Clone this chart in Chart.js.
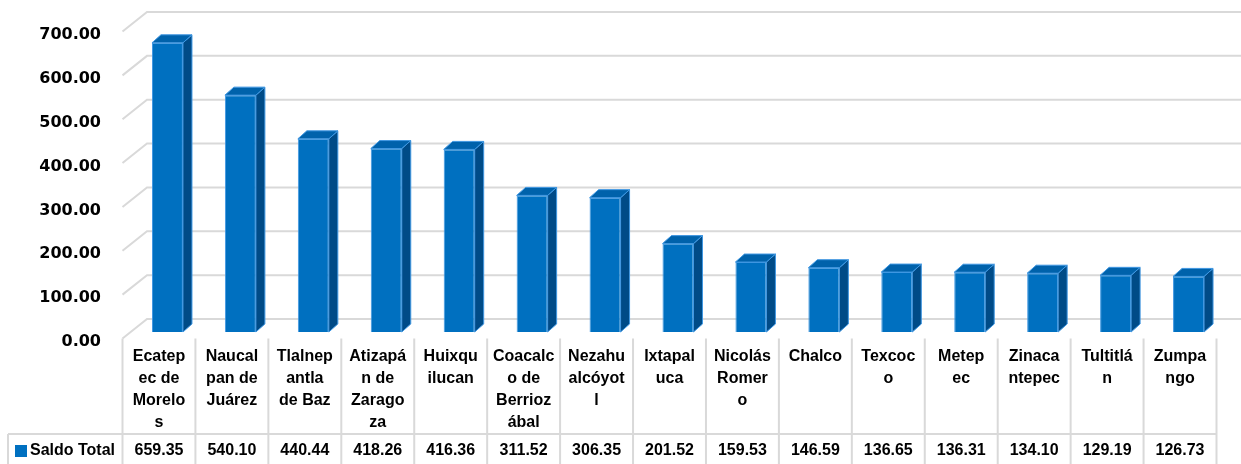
<!DOCTYPE html>
<html>
<head>
<meta charset="utf-8">
<script src="https://cdn.jsdelivr.net/npm/chart.js@4/dist/chart.umd.min.js"></script>
<style>
  body { margin: 0; background: #fff; }
  #wrap { width: 1241px; height: 464px; }
</style>
</head>
<body>
<div id="wrap"><canvas id="saldoChart"></canvas></div>
<script>
const municipios = [
    ["Ecatep", "ec de", "Morelo", "s"],
    ["Naucal", "pan de", "Juárez"],
    ["Tlalnep", "antla", "de Baz"],
    ["Atizapá", "n de", "Zarago", "za"],
    ["Huixqu", "ilucan"],
    ["Coacalc", "o de", "Berrioz", "ábal"],
    ["Nezahu", "alcóyot", "l"],
    ["Ixtapal", "uca"],
    ["Nicolás", "Romer", "o"],
    ["Chalco"],
    ["Texcoc", "o"],
    ["Metep", "ec"],
    ["Zinaca", "ntepec"],
    ["Tultitlá", "n"],
    ["Zumpa", "ngo"]
];
const saldoTotal = [659.35, 540.10, 440.44, 418.26, 416.36, 311.52, 306.35, 201.52, 159.53, 146.59, 136.65, 136.31, 134.10, 129.19, 126.73];
const serieNombre = "Saldo Total";

// desplazamientos del efecto 3D
const prof = { x: 9, y: 8 };        // fondo de cada barra
const frente = { x: -8.5, y: 6.5 };  // plano frontal (tabla, etiquetas)
const fondo = { x: 16, y: -13 };     // pared del fondo (rejilla)

const azul = "#0070c0";
const azulLado = "#004b87";
const azulTapa = "#0062ab";
const borde = "#3f97e2";
const gris = "#d9d9d9";

const efecto3d = {
    id: "efecto3d",
    beforeDatasetsDraw(chart) {
        const ctx = chart.ctx;
        const y = chart.scales.y;
        const left = chart.chartArea.left;
        ctx.save();
        ctx.strokeStyle = gris;
        ctx.lineWidth = 2;
        y.ticks.forEach(t => {
            const py = y.getPixelForValue(t.value);
            ctx.beginPath();
            ctx.moveTo(left + frente.x, py + frente.y);
            ctx.lineTo(left + fondo.x, py + fondo.y);
            ctx.lineTo(chart.width, py + fondo.y);
            ctx.stroke();
        });
        ctx.restore();
    },
    afterDatasetsDraw(chart) {
        const ctx = chart.ctx;
        const meta = chart.getDatasetMeta(0);
        ctx.save();
        ctx.lineWidth = 1;
        ctx.strokeStyle = borde;
        meta.data.forEach(bar => {
            const w = bar.width / 2;
            const l = bar.x - w, r = bar.x + w;
            // lado
            ctx.beginPath();
            ctx.moveTo(r, bar.y);
            ctx.lineTo(r + prof.x, bar.y - prof.y);
            ctx.lineTo(r + prof.x, bar.base - prof.y);
            ctx.lineTo(r, bar.base);
            ctx.closePath();
            ctx.fillStyle = azulLado;
            ctx.fill();
            ctx.stroke();
            // tapa
            ctx.beginPath();
            ctx.moveTo(l, bar.y);
            ctx.lineTo(l + prof.x, bar.y - prof.y);
            ctx.lineTo(r + prof.x, bar.y - prof.y);
            ctx.lineTo(r, bar.y);
            ctx.closePath();
            ctx.fillStyle = azulTapa;
            ctx.fill();
            ctx.stroke();
        });
        ctx.restore();
    },
    afterDraw(chart) {
        const ctx = chart.ctx;
        const x = chart.scales.x;
        const y = chart.scales.y;
        const n = saldoTotal.length;
        const colW = chart.chartArea.width / n;
        const x0 = chart.chartArea.left + frente.x;
        const top = y.getPixelForValue(0) + frente.y;
        const filaY = 434;
        ctx.save();
        ctx.strokeStyle = gris;
        ctx.lineWidth = 2;
        ctx.beginPath();
        for (let i = 0; i <= n; i++) {
            ctx.moveTo(x0 + i * colW, top);
            ctx.lineTo(x0 + i * colW, chart.height);
        }
        ctx.moveTo(8, filaY);
        ctx.lineTo(x0 + n * colW, filaY);
        ctx.moveTo(8, filaY);
        ctx.lineTo(8, chart.height);
        ctx.stroke();

        ctx.fillStyle = "#000";
        ctx.textAlign = "center";
        ctx.textBaseline = "middle";
        ctx.font = "bold 16px 'Liberation Sans', Arial, sans-serif";
        municipios.forEach((lineas, i) => {
            const cx = x.getPixelForValue(i) + frente.x;
            lineas.forEach((txt, k) => ctx.fillText(txt, cx, 357 + k * 22));
            ctx.fillText(saldoTotal[i].toFixed(2), cx, 451);
        });

        ctx.fillStyle = azul;
        ctx.fillRect(15, 445, 12, 12);
        ctx.fillStyle = "#000";
        ctx.textAlign = "left";
        ctx.fillText(serieNombre, 30, 451);
        ctx.restore();
    }
};

new Chart(document.getElementById("saldoChart"), {
    type: "bar",
    data: {
        labels: municipios,
        datasets: [{
            label: serieNombre,
            data: saldoTotal,
            backgroundColor: azul,
            borderColor: borde,
            borderWidth: 1,
            barPercentage: 0.425,
            categoryPercentage: 1
        }]
    },
    options: {
        responsive: true,
        maintainAspectRatio: false,
        animation: false,
        layout: { padding: { top: 25, right: 16, bottom: 132, left: 0 } },
        plugins: {
            legend: { display: false },
            tooltip: { enabled: false }
        },
        scales: {
            x: { display: false },
            y: {
                min: 0,
                max: 700,
                afterFit(scale) {
                    scale.width = 131;
                    scale.paddingTop = 0;
                    scale.paddingBottom = 0;
                },
                border: { display: false },
                grid: { display: false },
                ticks: {
                    stepSize: 100,
                    padding: 22,
                    labelOffset: 10,
                    color: "#000",
                    font: { family: "'DejaVu Sans'", size: 16, weight: "bold" },
                    callback: v => v.toFixed(2)
                }
            }
        }
    },
    plugins: [efecto3d]
});
</script>
</body>
</html>
